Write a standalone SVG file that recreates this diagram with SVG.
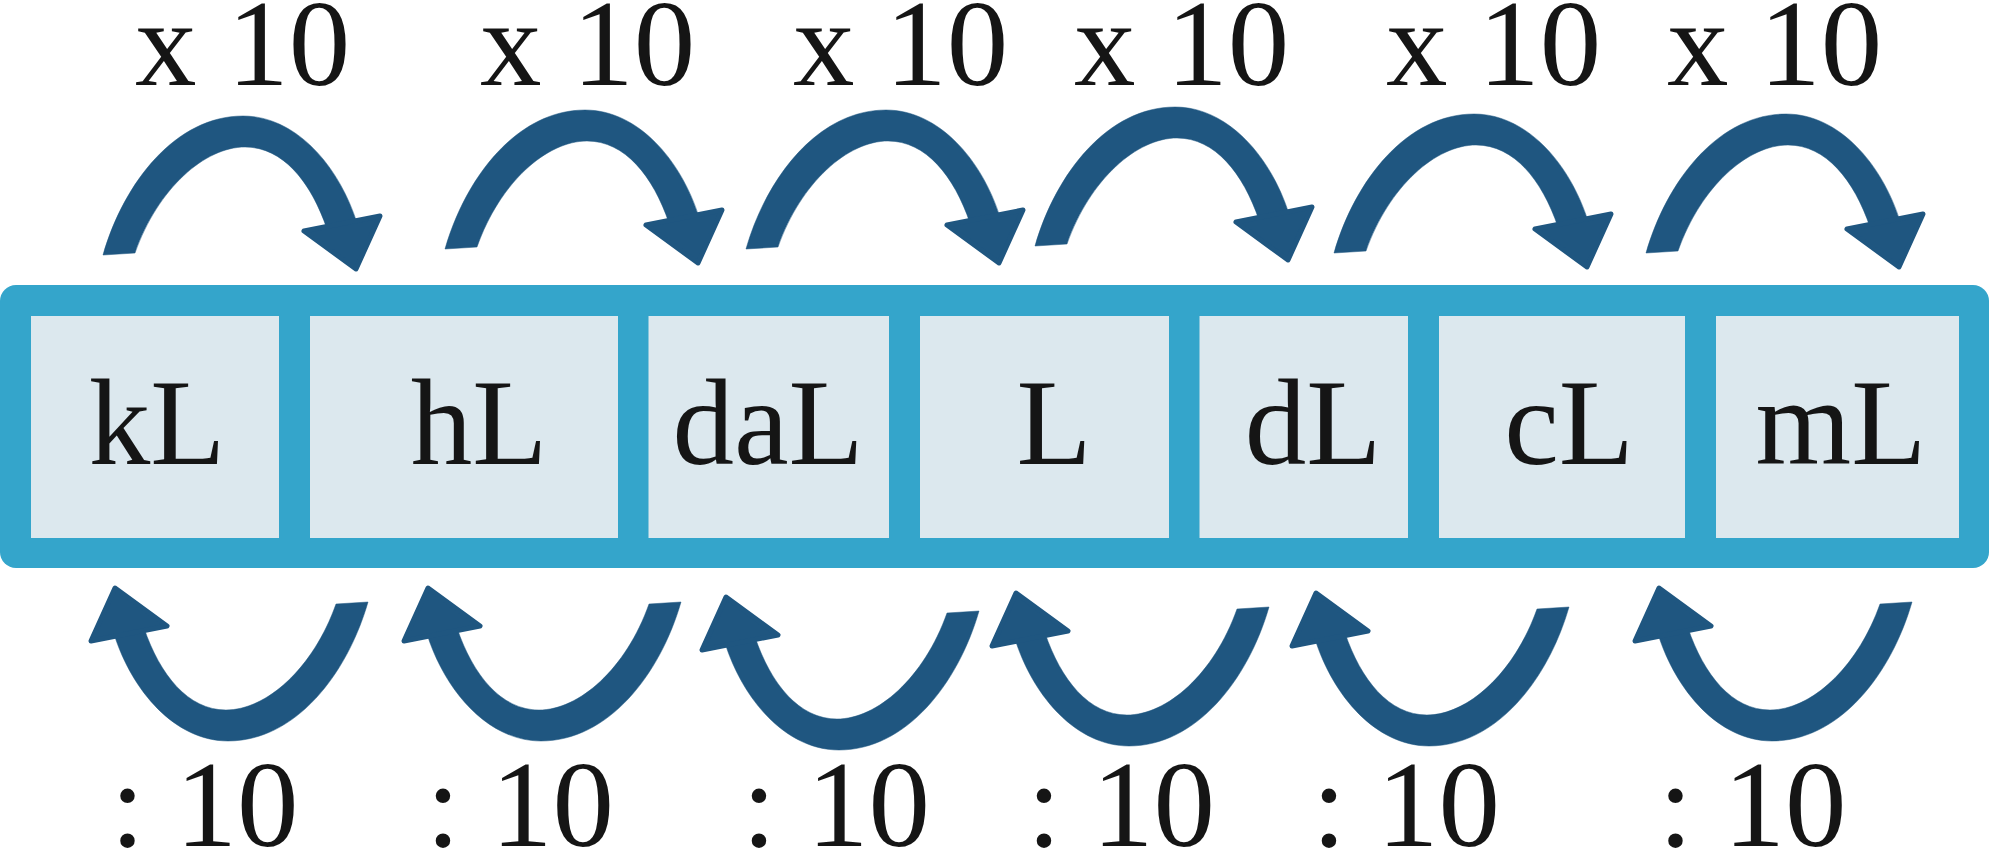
<svg xmlns="http://www.w3.org/2000/svg" xmlns:xlink="http://www.w3.org/1999/xlink" width="1990" height="849" viewBox="0 0 1990 849">
  <style>
    .cell { fill: #DCE8EE; }
    .bar { fill: #34A5CB; }
    .t { font-size: 123px; fill: #151515; }
    .m { text-anchor: middle; }
    .arr { fill: #1F5680; stroke: #1F5680; stroke-linejoin: round; }
  </style>
  <defs>
    <g id="arrow" class="arr">
      <path stroke-width="0.5" d="M103,255 C124,182 176,116 243,116 C296,116 339,166 357,223 L327,229 C311,182 283,147 245,147 C205,147 158,188 135,253 Z"/>
      <polygon stroke-width="5" points="304,231 380,216 356,269"/>
    </g>
  </defs>
  <rect width="1990" height="849" fill="#FFFFFF"/>
  <g id="bar">
    <rect class="bar" x="0" y="285" width="1989" height="283" rx="16" ry="16"/>
  </g>
  <g id="nodes" font-family="'Liberation Serif', Tinos, 'Times New Roman', Times, serif">
    <g id="node-kL">
      <rect class="cell" x="31" y="316" width="248" height="222"/>
      <text class="t m" x="157" y="464">kL</text>
    </g>
    <g id="node-hL">
      <rect class="cell" x="310" y="316" width="308" height="222"/>
      <text class="t m" x="479" y="464">hL</text>
    </g>
    <g id="node-daL">
      <rect class="cell" x="648.5" y="316" width="240.5" height="222"/>
      <text class="t m" x="768" y="464">daL</text>
    </g>
    <g id="node-L">
      <rect class="cell" x="920" y="316" width="249" height="222"/>
      <text class="t m" x="1054" y="464">L</text>
    </g>
    <g id="node-dL">
      <rect class="cell" x="1199.5" y="316" width="208.5" height="222"/>
      <text class="t m" x="1313" y="464">dL</text>
    </g>
    <g id="node-cL">
      <rect class="cell" x="1439" y="316" width="246" height="222"/>
      <text class="t m" x="1569" y="464">cL</text>
    </g>
    <g id="node-mL">
      <rect class="cell" x="1716" y="316" width="243" height="222"/>
      <text class="t m" x="1841" y="464">mL</text>
    </g>
  </g>
  <g id="connectors">
    <use xlink:href="#arrow" href="#arrow"/>
    <use xlink:href="#arrow" href="#arrow" transform="translate(342,-6)"/>
    <use xlink:href="#arrow" href="#arrow" transform="translate(643,-6)"/>
    <use xlink:href="#arrow" href="#arrow" transform="translate(932,-9)"/>
    <use xlink:href="#arrow" href="#arrow" transform="translate(1231,-2)"/>
    <use xlink:href="#arrow" href="#arrow" transform="translate(1543,-2)"/>
    <use xlink:href="#arrow" href="#arrow" transform="translate(471,857) rotate(180)"/>
    <use xlink:href="#arrow" href="#arrow" transform="translate(784,857) rotate(180)"/>
    <use xlink:href="#arrow" href="#arrow" transform="translate(1082,866) rotate(180)"/>
    <use xlink:href="#arrow" href="#arrow" transform="translate(1372,862) rotate(180)"/>
    <use xlink:href="#arrow" href="#arrow" transform="translate(1672,862) rotate(180)"/>
    <use xlink:href="#arrow" href="#arrow" transform="translate(2015,857) rotate(180)"/>
  </g>
  <g id="labels-top" font-family="'Liberation Serif', Tinos, 'Times New Roman', Times, serif">
    <text class="t" x="135" y="85">x 10</text>
    <text class="t" x="480" y="85">x 10</text>
    <text class="t" x="793" y="85">x 10</text>
    <text class="t" x="1074" y="85">x 10</text>
    <text class="t" x="1386" y="85">x 10</text>
    <text class="t" x="1667" y="85">x 10</text>
  </g>
  <g id="labels-bottom" font-family="'Liberation Serif', Tinos, 'Times New Roman', Times, serif">
    <text class="t" x="110.5" y="846">: 10</text>
    <text class="t" x="426" y="846">: 10</text>
    <text class="t" x="742" y="846">: 10</text>
    <text class="t" x="1027" y="846">: 10</text>
    <text class="t" x="1312" y="846">: 10</text>
    <text class="t" x="1658.5" y="846">: 10</text>
  </g>
</svg>
